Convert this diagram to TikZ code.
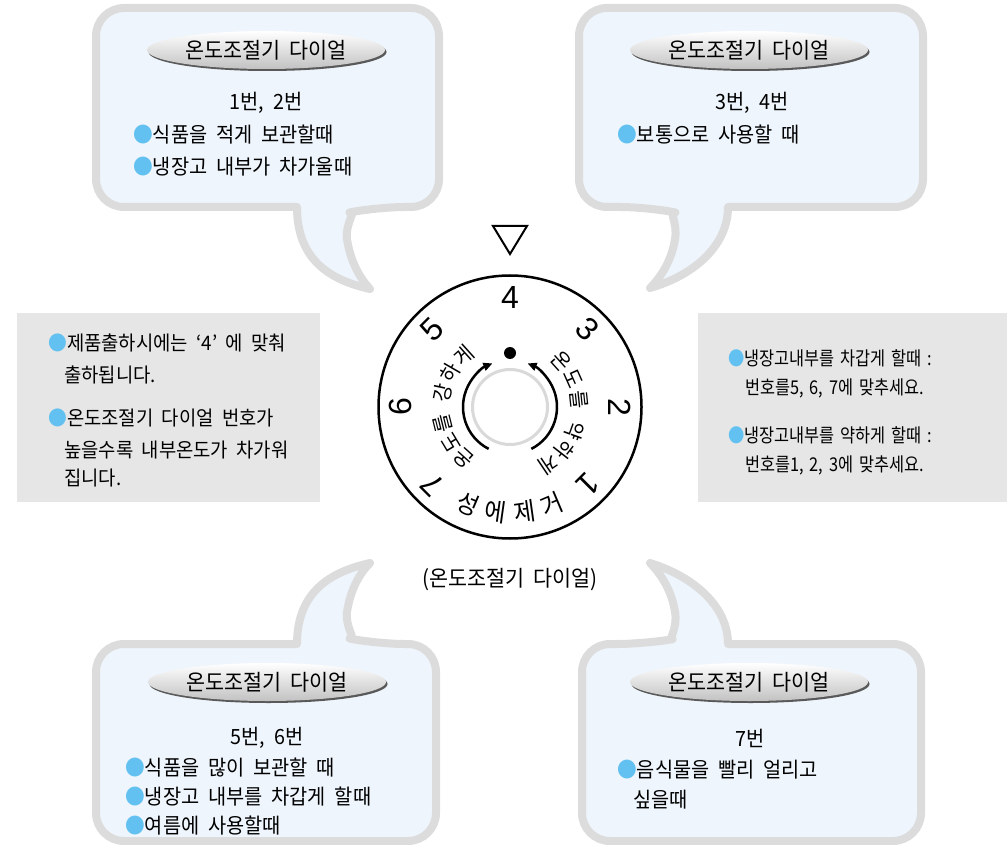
\documentclass[tikz,border=0pt]{standalone}
\usepackage{fontspec}
\setmainfont{Noto Sans CJK KR}[WordSpace=2,FakeStretch=0.94]
\newfontfamily\narrowkr{Noto Sans CJK KR}[WordSpace=1.6,FakeStretch=0.86]
\newfontfamily\dialfont{Liberation Sans}
\usetikzlibrary{calc,arrows.meta,shapes.geometric,shadows}

\definecolor{bubblefill}{HTML}{EEF5FC}
\definecolor{bubbleline}{HTML}{DCDCDC}
\definecolor{notefill}{HTML}{E6E6E6}
\definecolor{dotblue}{HTML}{62C1F0}
\newcommand{\blt}{{\color{dotblue}●}}

\begin{document}
\begin{tikzpicture}[x=1pt,y=1pt,
    bubble/.style={draw=bubbleline,fill=bubblefill,line width=8pt,line join=round},
    headline/.style={ellipse,inner sep=0pt,minimum width=238pt,minimum height=38pt,
      top color=white,bottom color=black!24,
      drop shadow={shadow xshift=1.5pt,shadow yshift=-2pt,fill=black!65,opacity=1},
      font=\fontsize{22}{22}\selectfont},
    number/.style={inner sep=0pt,font=\fontsize{21}{21}\selectfont},
    item/.style={anchor=west,inner sep=0pt,font=\fontsize{21}{21}\selectfont},
    noteitem/.style={anchor=west,inner sep=0pt,font=\fontsize{20}{20}\selectfont},
    smallitem/.style={anchor=west,inner sep=0pt,font=\narrowkr\fontsize{19}{19}\selectfont},
    note/.style={fill=notefill,anchor=north west,inner sep=0pt},
    dialnum/.style={inner sep=0pt,font=\dialfont\fontsize{32}{32}\selectfont},
    dialtext/.style={inner sep=0pt,font=\fontsize{21}{21}\selectfont}]

    \useasboundingbox (0,0) rectangle (1007,-845);

    % speech bubbles
    \draw[bubble,rounded corners=28pt] (297,-207) -- (96,-207) -- (96,-8) -- (439,-8) -- (439,-207) -- (377,-207)
      [sharp corners] .. controls (357,-211) and (345,-223) .. (347,-239)
      .. controls (350,-259) and (358,-276) .. (370,-289)
      .. controls (330,-280) and (297,-260) .. (297,-207) -- cycle;
    \draw[bubble,rounded corners=28pt] (728,-207) -- (923,-207) -- (923,-8) -- (579,-8) -- (579,-207) -- (648,-207)
      [sharp corners] .. controls (668,-211) and (678,-223) .. (675,-239)
      .. controls (672,-259) and (662,-276) .. (650,-288)
      .. controls (695,-275) and (728,-245) .. (728,-207) -- cycle;
    \draw[bubble,rounded corners=28pt] (297,-644) -- (96,-644) -- (96,-841) -- (436,-841) -- (436,-644) -- (377,-644)
      [sharp corners] .. controls (357,-640) and (345,-628) .. (347,-612)
      .. controls (350,-592) and (358,-575) .. (370,-563)
      .. controls (330,-572) and (297,-592) .. (297,-644) -- cycle;
    \draw[bubble,rounded corners=28pt] (728,-644) -- (921,-644) -- (921,-841) -- (582,-841) -- (582,-644) -- (645,-644)
      [sharp corners] .. controls (668,-640) and (678,-628) .. (675,-612)
      .. controls (672,-592) and (662,-575) .. (650,-563)
      .. controls (695,-577) and (728,-607) .. (728,-644) -- cycle;

    % 1, 2
    \node[headline] (headA) at (266,-50) {온도조절기 다이얼};
    \node[number] (numA) at (266,-103) {1번, 2번};
    \node[item] (itemA1) at (133,-135) {\blt 식품을 적게 보관할때};
    \node[item] (itemA2) at (133,-167) {\blt 냉장고 내부가 차가울때};

    % 3, 4
    \node[headline] (headB) at (749,-50) {온도조절기 다이얼};
    \node[number] (numB) at (752,-103) {3번, 4번};
    \node[item] (itemB1) at (617,-135) {\blt 보통으로 사용할 때};

    % 5, 6
    \node[headline] (headC) at (267,-682) {온도조절기 다이얼};
    \node[number] (numC) at (267,-738) {5번, 6번};
    \node[item] (itemC1) at (125,-768) {\blt 식품을 많이 보관할 때};
    \node[item] (itemC2) at (125,-797) {\blt 냉장고 내부를 차갑게 할때};
    \node[item] (itemC3) at (125,-826) {\blt 여름에 사용할때};

    % 7
    \node[headline] (headD) at (749,-682) {온도조절기 다이얼};
    \node[number] (numD) at (750,-738) {7번};
    \node[item] (itemD1) at (617,-770) {\blt 음식물을 빨리 얼리고};
    \node[item] (itemD2) at (633,-800) {싶을때};

    % notes
    \node[note,minimum width=303pt,minimum height=189pt] (noteL) at (17,-313) {};
    \node[noteitem] (noteL1) at (48,-343) {\blt 제품출하시에는 ‘4’ 에 맞춰};
    \node[noteitem] (noteL2) at (64,-375) {출하됩니다.};
    \node[noteitem] (noteL3) at (48,-418) {\blt 온도조절기 다이얼 번호가};
    \node[noteitem] (noteL4) at (64,-450) {높을수록 내부온도가 차가워};
    \node[noteitem] (noteL5) at (64,-478) {집니다.};

    \node[note,minimum width=309pt,minimum height=189pt] (noteR) at (698,-313) {};
    \node[smallitem] (noteR1) at (728,-358) {\blt 냉장고내부를 차갑게 할때 :};
    \node[smallitem] (noteR2) at (745,-388) {번호를5, 6, 7에 맞추세요.};
    \node[smallitem] (noteR3) at (728,-435) {\blt 냉장고내부를 약하게 할때 :};
    \node[smallitem] (noteR4) at (745,-465) {번호를1, 2, 3에 맞추세요.};

    % dial
    \coordinate (dial) at (510,-407);
    \node[circle,draw,line width=2.5pt,minimum size=263pt,inner sep=0pt] (rim) at (dial) {};
    \node[circle,draw=black!15,line width=3pt,minimum size=75pt,inner sep=0pt] (hub) at (dial) {};
    \node[circle,fill,inner sep=0pt,minimum size=12pt] (mark) at ($(dial)+(0,54)$) {};
    \draw[line width=2pt,line join=miter] ($(dial)+(-17,181)$) -- ($(dial)+(17,181)$) -- ($(dial)+(0,153)$) -- cycle;

    \draw[line width=2.5pt,-{Triangle[length=9pt,width=8pt]}] ($(dial)+(243:47)$) arc[start angle=243,end angle=112,radius=47];
    \draw[line width=2.5pt,-{Triangle[length=9pt,width=8pt]}] ($(dial)+(-63:47)$) arc[start angle=-63,end angle=68,radius=47];

    \foreach \n/\a in {4/90,3/45,2/0,1/-45,5/135,6/180,7/225}
      \node[dialnum,rotate=\a-90] (dial\n) at ($(dial)+(\a:110)$) {\n};

    \foreach \c/\a [count=\i] in {온/228,도/211,를/194,강/168,하/150,게/132}
      \node[dialtext,rotate=\a-90] (strong\i) at ($(dial)+(\a:69)$) {\c};
    \foreach \c/\a [count=\i] in {온/42,도/24,를/6,약/-20,하/-38,게/-56}
      \node[dialtext,rotate=\a-90] (weak\i) at ($(dial)+(\a:69)$) {\c};
    \foreach \c/\a [count=\i] in {성/247,에/262,제/278,거/293}
      \node[dialtext,font=\fontsize{25}{25}\selectfont,rotate=\a+90] (defrost\i) at ($(dial)+(\a:106)$) {\c};

    \node[font=\fontsize{22}{22}\selectfont] (caption) at (510,-580) {(온도조절기 다이얼)};
\end{tikzpicture}
\end{document}
